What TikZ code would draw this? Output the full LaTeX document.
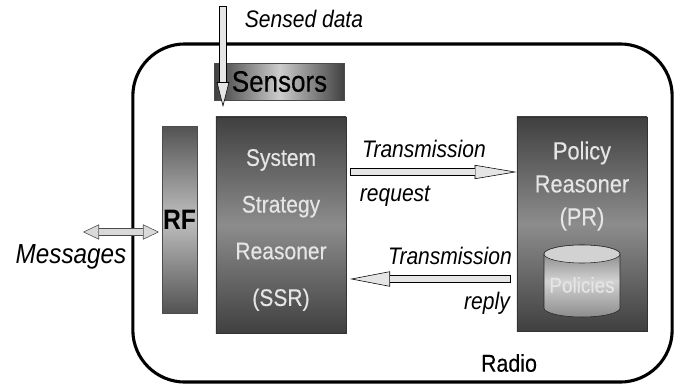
\documentclass[tikz,border=0pt]{standalone}
\usepackage{fontspec}
\setmainfont[FakeStretch=0.88, UprightFeatures={FakeBold=0.3}]{Liberation Sans}
\usetikzlibrary{arrows.meta}
\usetikzlibrary{positioning}
\definecolor{darkbox}{gray}{0.25}
\definecolor{midbox}{gray}{0.55}
\definecolor{arrowfill}{gray}{0.9}
\definecolor{boxtext}{gray}{0.9}
\tikzset{
	blockarrow/.style 2 args={line width=0.185cm, draw=black, -{Triangle[length=#1, width=#2, fill=arrowfill, line width=0.4pt]},
		postaction={draw=arrowfill, line width=0.14cm, -, shorten <=0.02cm, shorten >=#1}},
	twowayarrow/.style={line width=0.175cm, draw=black!70, {Triangle[length=#1, width=0.38cm, fill=gray!30, line width=0.4pt]}-{Triangle[length=#1, width=0.38cm, fill=gray!30, line width=0.4pt]},
		postaction={draw=gray!30, line width=0.13cm, -, shorten <=#1, shorten >=#1}},
	reasonerbox/.style={draw=black!80, minimum width=3.25cm, top color=darkbox, bottom color=darkbox, middle color=midbox},
	reasonertext/.style={text=boxtext, align=center},
	arrowtext/.style={font=\itshape\fontsize{17}{20}\selectfont}
}
\begin{document}
\begin{tikzpicture}[x=0.025cm, y=-0.025cm]
	\useasboundingbox (0,0) rectangle (680,388);
	\node[draw, line width=2.2pt, rounded corners=1.3cm, minimum width=13.48cm, minimum height=8.45cm] (radio) at (402.5,213) {};
	\node[font=\fontsize{17.3}{20}\selectfont] (radiolabel) at (509,363) {Radio};

	\node[draw=black!70, minimum width=3.25cm, minimum height=0.92cm, left color=darkbox, right color=darkbox, middle color=gray!40!white, font=\fontsize{21}{24}\selectfont, text=black] (sensors) at (279.5,81.5) {Sensors};
	\node[draw=black!70, minimum width=0.87cm, minimum height=4.67cm, top color=darkbox!90, bottom color=darkbox!90, middle color=gray!50!white, font=\bfseries\fontsize{20}{24}\selectfont, inner sep=0pt] (rf) at (179.5,219.5) {RF};

	\node[reasonerbox, minimum height=5.4cm] (ssr) at (281,225) {};
	\node[reasonertext, font=\fontsize{17}{33.2}\selectfont] (ssrlabel) at (281,230) {System\\Strategy\\Reasoner\\(SSR)};
	\node[reasonerbox, minimum height=5.35cm] (pr) at (582,224) {};
	\node[reasonertext, font=\fontsize{17.6}{23.5}\selectfont] (prlabel) at (582,186) {Policy\\Reasoner\\(PR)};

	% policies store
	\shade[top color=gray!105, bottom color=gray!90, middle color=gray!35!white, draw=black!85, shading angle=0] (544,254) -- (544,308) arc[start angle=180, end angle=360, x radius=0.95cm, y radius=0.225cm] -- (620,254) arc[start angle=0, end angle=180, x radius=0.95cm, y radius=0.225cm] -- cycle;
	\filldraw[fill=gray!35, draw=black!85] (582,254) ellipse[x radius=0.95cm, y radius=0.225cm];
	\node[text=boxtext, font=\fontsize{15.3}{18}\selectfont] (policieslabel) at (582,285) {Policies};

	\coordinate (sensedstart) at (223,6);
	\coordinate (sensedend) at (223,107);
	\draw[blockarrow={0.62cm}{0.31cm}] (sensedstart) -- (sensedend);
	\node[arrowtext] (sensedlabel) at (304,19) {Sensed data};

	\coordinate (requeststart) at (350,172);
	\draw[blockarrow={1.05cm}{0.35cm}] (requeststart) -- (pr.west |- requeststart);
	\node[arrowtext] (requestlabel1) at (424,149) {Transmission};
	\node[arrowtext] (requestlabel2) at (395,196) {request};

	\coordinate (replystart) at (511,279);
	\coordinate (replyend) at (350,279);
	\draw[blockarrow={1cm}{0.38cm}] (replystart) -- (replyend);
	\node[arrowtext] (replylabel1) at (450,256) {Transmission};
	\node[arrowtext] (replylabel2) at (487,303) {reply};

	\coordinate (messagesstart) at (83,232);
	\coordinate (messagesend) at (159,232);
	\draw[twowayarrow=0.4cm] (messagesstart) -- (messagesend);
	\node[font=\itshape\fontsize{19.6}{22}\selectfont] (messageslabel) at (71,257) {Messages};
\end{tikzpicture}
\end{document}
